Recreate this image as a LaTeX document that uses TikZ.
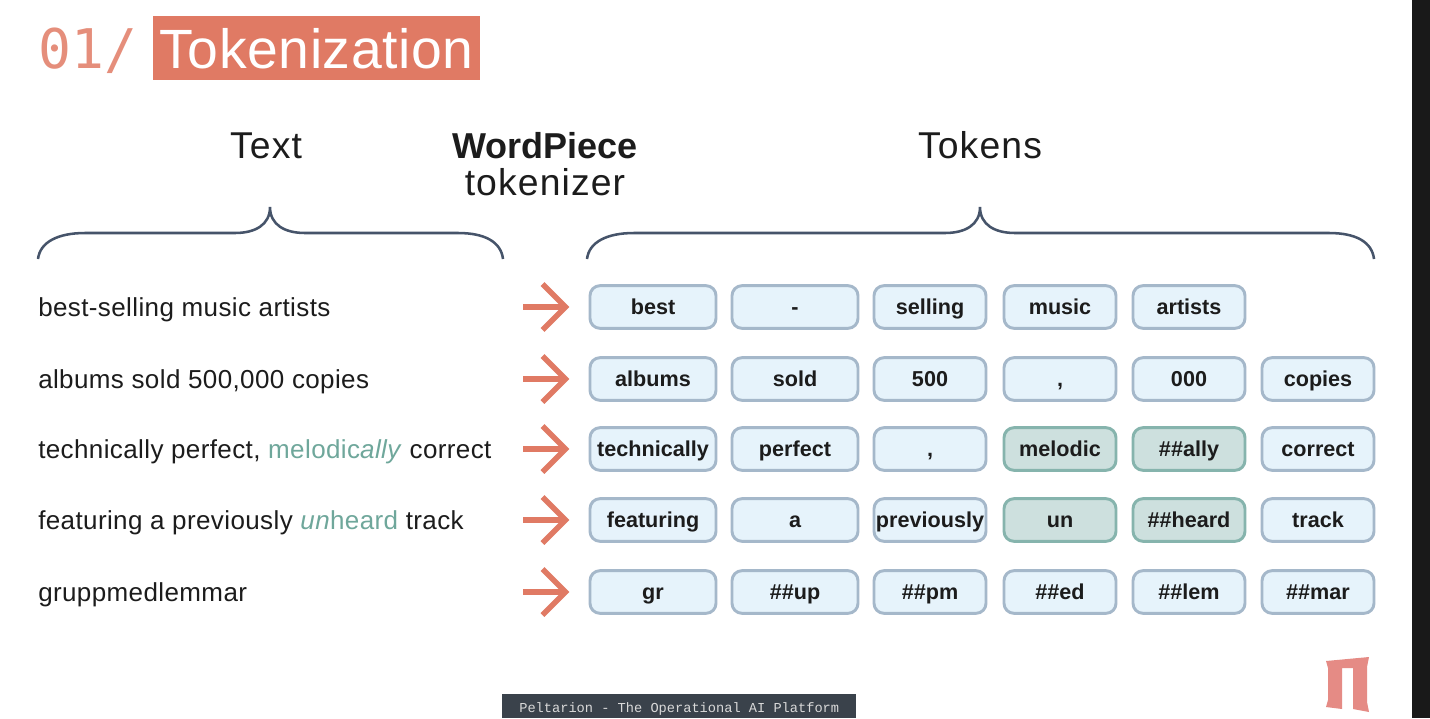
\documentclass[tikz,border=0pt]{standalone}
\usepackage{fontspec}
\setmainfont{Liberation Sans}
\newfontfamily\monof{DejaVu Sans Mono}
\newfontfamily\footf{Liberation Mono}
\newfontfamily\bodyf[LetterSpace=1.5]{Liberation Sans}
\newfontfamily\headf[LetterSpace=3]{Liberation Sans}
\newfontfamily\titlef[LetterSpace=1]{Liberation Sans}
\usetikzlibrary{arrows.meta}
\definecolor{coral}{HTML}{E07A64}
\definecolor{tealtxt}{HTML}{6FA79B}
\definecolor{boxfill}{HTML}{E6F3FB}
\definecolor{boxline}{HTML}{A5B8CA}
\definecolor{greenfill}{HTML}{CDE0DE}
\definecolor{greenline}{HTML}{86B4AD}
\definecolor{bracec}{HTML}{46546A}
\definecolor{ink}{HTML}{1C1C1C}
\tikzset{
 tok/.style={draw=boxline,fill=boxfill,line width=2.2pt,rounded corners=7.5pt,minimum height=32pt,inner sep=0pt,text=ink,text height=14pt,text depth=3pt,font=\fontsize{16.2}{18}\selectfont\bfseries,anchor=center},
 tokg/.style={tok,draw=greenline,fill=greenfill},
 w1/.style={minimum width=94.5pt},
 w2/.style={minimum width=84pt},
 src/.style={anchor=base west,inner sep=0pt,text=ink,font=\bodyf\fontsize{19.5}{22}\selectfont},
 hdr/.style={inner sep=0pt,text=ink,font=\headf\fontsize{28}{30}\selectfont,anchor=base},
 brace/.style={draw=bracec,line width=1.9pt},
 rarrow/.style={draw=coral,line width=4pt},
}
\newcommand{\tl}[1]{{\color{tealtxt}#1}}
\begin{document}
\begin{tikzpicture}[x=0.75pt,y=-0.75pt]
\useasboundingbox (0,0) rectangle (1430,718);
\fill[white] (0,0) rectangle (1430,718);
\fill[fill=black!90] (1412,0) rectangle (1430,718);
% title
\node[anchor=base west,inner sep=0pt,text=coral!85!white,font=\monof\fontsize{41}{44}\selectfont] (num) at (38,68) {01/};
\node[anchor=north west,fill=coral,inner sep=0pt,minimum width=245.25pt,minimum height=48pt] (titlebox) at (153,16) {};
\node[anchor=base,inner sep=0pt,text=white,font=\titlef\fontsize{41.5}{44}\selectfont] (title) at (316.5,68) {Tokenization};
% headers
\node[hdr] (htext) at (266,158) {Text};
\node[hdr,font=\fontsize{27}{30}\selectfont\bfseries] (hwp) at (545,158) {WordPiece};
\node[hdr] (htok) at (545,195) {tokenizer};
\node[hdr] (htokens) at (980,158) {Tokens};
% braces
\coordinate (bl1) at (38,259); \coordinate (bl2) at (270,207); \coordinate (bl3) at (503,259);
\coordinate (br1) at (587,259); \coordinate (br2) at (980,207); \coordinate (br3) at (1374,259);
\draw[brace] (bl1) .. controls (40,242) and (58,233) .. (85,233) -- (235,233) .. controls (255,233) and (270,225) .. (bl2) .. controls (270,225) and (285,233) .. (305,233) -- (458,233) .. controls (485,233) and (501,242) .. (bl3);
\draw[brace] (br1) .. controls (589,242) and (607,233) .. (634,233) -- (945,233) .. controls (965,233) and (980,225) .. (br2) .. controls (980,225) and (995,233) .. (1015,233) -- (1329,233) .. controls (1356,233) and (1372,242) .. (br3);
% source text
\node[src] (s1) at (38,316) {best-selling music artists};
\node[src] (s2) at (38,388) {albums sold 500,000 copies};
\node[src] (s3) at (38,458) {technically perfect, \tl{melodic\textit{ally}} correct};
\node[src] (s4) at (38,529) {featuring a previously \tl{\textit{un}heard} track};
\node[src] (s5) at (38,601) {gruppmedlemmar};
% arrows
\foreach \n/\y in {1/307,2/379,3/449,4/520,5/592}{
 \coordinate (as\n) at (523,\y);
 \coordinate (ae\n) at (564,\y);
 \draw[rarrow] (as\n) -- (ae\n);
 \draw[rarrow,miter limit=10] ([shift={(-21.5,-23)}]ae\n) -- ([shift={(1.5,0)}]ae\n) -- ([shift={(-21.5,23)}]ae\n);
}
% tokens
\node[tok,w1] (a1) at (653,307) {best};
\node[tok,w1] (a2) at (795,307) {-};
\node[tok,w2] (a3) at (930,307) {selling};
\node[tok,w2] (a4) at (1060,307) {music};
\node[tok,w2] (a5) at (1189,307) {artists};
\node[tok,w1] (b1) at (653,379) {albums};
\node[tok,w1] (b2) at (795,379) {sold};
\node[tok,w2] (b3) at (930,379) {500};
\node[tok,w2] (b4) at (1060,379) {,};
\node[tok,w2] (b5) at (1189,379) {000};
\node[tok,w2] (b6) at (1318,379) {copies};
\node[tok,w1] (c1) at (653,449) {technically};
\node[tok,w1] (c2) at (795,449) {perfect};
\node[tok,w2] (c3) at (930,449) {,};
\node[tokg,w2] (c4) at (1060,449) {melodic};
\node[tokg,w2] (c5) at (1189,449) {\#\#ally};
\node[tok,w2] (c6) at (1318,449) {correct};
\node[tok,w1] (d1) at (653,520) {featuring};
\node[tok,w1] (d2) at (795,520) {a};
\node[tok,w2] (d3) at (930,520) {previously};
\node[tokg,w2] (d4) at (1060,520) {un};
\node[tokg,w2] (d5) at (1189,520) {\#\#heard};
\node[tok,w2] (d6) at (1318,520) {track};
\node[tok,w1] (e1) at (653,592) {gr};
\node[tok,w1] (e2) at (795,592) {\#\#up};
\node[tok,w2] (e3) at (930,592) {\#\#pm};
\node[tok,w2] (e4) at (1060,592) {\#\#ed};
\node[tok,w2] (e5) at (1189,592) {\#\#lem};
\node[tok,w2] (e6) at (1318,592) {\#\#mar};
% logo
\fill[fill={rgb,255:red,229;green,139;blue,133}] (1326,661) -- (1369,657) -- (1367,667) -- (1367,702) -- (1369,712) -- (1353,709) -- (1353,668) -- (1342,668) -- (1342,709) -- (1326,707) -- (1328,700) -- (1328,668) -- cycle;
% footer
\node[anchor=north west,fill={rgb,255:red,58;green,66;blue,75},inner sep=0pt,minimum width=265.5pt,minimum height=18pt,text height=9pt,text depth=0pt,text=white!85!black,font=\footf\fontsize{10.25}{12}\selectfont] (foot) at (502,694) {Peltarion - The Operational AI Platform};
\end{tikzpicture}
\end{document}
